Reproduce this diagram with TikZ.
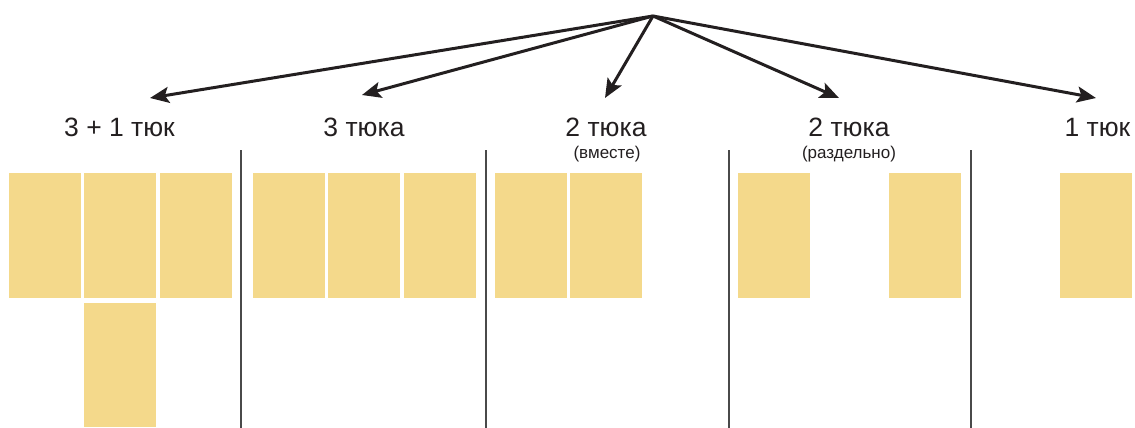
\documentclass[tikz,border=0pt]{standalone}
\usepackage{fontspec}
\setmainfont{Liberation Sans}
\usetikzlibrary{arrows.meta}
\definecolor{bale}{HTML}{F4D98B}
\definecolor{ink}{HTML}{231F20}
\definecolor{sep}{HTML}{4A4A4A}
\tikzset{
  balebox/.style={fill=bale, draw=none, inner sep=0pt, minimum width=72pt, minimum height=124.5pt, anchor=north west},
  biglabel/.style={inner sep=0pt, anchor=base, font=\fontsize{26.5}{26.5}\selectfont, text=ink},
  smalllabel/.style={inner sep=0pt, anchor=base, font=\fontsize{17}{17}\selectfont, text=ink},
  choice/.style={draw=ink, line width=3pt, -{Stealth[length=19pt,width=16pt,inset=4pt]}},
  divider/.style={draw=sep, line width=1.8pt}
}
\begin{document}
\begin{tikzpicture}[x=1pt,y=-1pt]
\useasboundingbox (0,0) rectangle (1135,428);
% apex and arrow targets
\coordinate (apex) at (653,16);
\coordinate (t1) at (150,98);
\coordinate (t2) at (362,95);
\coordinate (t3) at (605,98);
\coordinate (t4) at (839,98);
\coordinate (t5) at (1096,98);
\foreach \t in {t1,t2,t3,t4,t5} \draw[choice] (apex) -- (\t);
% labels
\node[biglabel] (l1) at (119.5,136) {3 + 1 тюк};
\node[biglabel] (l2) at (364,136) {3 тюка};
\node[biglabel] (l3) at (606,136) {2 тюка};
\node[smalllabel] (s3) at (607,158) {(вместе)};
\node[biglabel] (l4) at (849,136) {2 тюка};
\node[smalllabel] (s4) at (849,158) {(раздельно)};
\node[biglabel] (l5) at (1097.5,136) {1 тюк};
% dividers
\coordinate (d1a) at (241,150); \coordinate (d1b) at (241,428);
\coordinate (d2a) at (486,150); \coordinate (d2b) at (486,428);
\coordinate (d3a) at (729,150); \coordinate (d3b) at (729,428);
\coordinate (d4a) at (971,150); \coordinate (d4b) at (971,428);
\draw[divider] (d1a) -- (d1b);
\draw[divider] (d2a) -- (d2b);
\draw[divider] (d3a) -- (d3b);
\draw[divider] (d4a) -- (d4b);
% bales
\node[balebox] (a1) at (9,173) {};
\node[balebox] (a2) at (84,173) {};
\node[balebox] (a3) at (160,173) {};
\node[balebox] (a4) at (84,302.5) {};
\node[balebox] (b1) at (253,173) {};
\node[balebox] (b2) at (328,173) {};
\node[balebox] (b3) at (404,173) {};
\node[balebox] (c1) at (495,173) {};
\node[balebox] (c2) at (570,173) {};
\node[balebox] (e1) at (738,173) {};
\node[balebox] (e2) at (889,173) {};
\node[balebox] (f1) at (1060,173) {};
\end{tikzpicture}
\end{document}
